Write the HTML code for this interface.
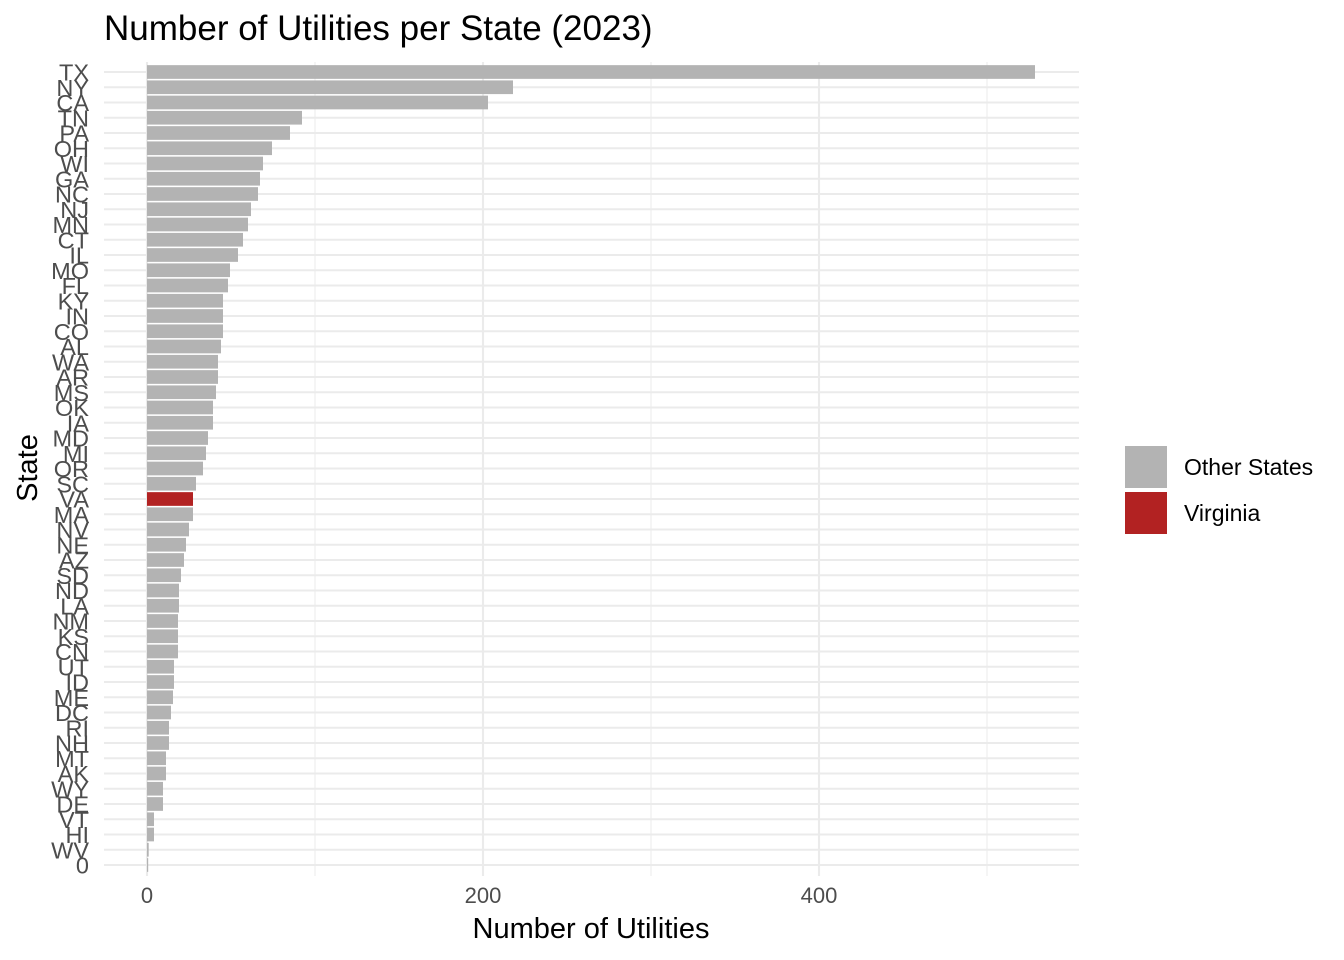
<!DOCTYPE html>
<html><head><meta charset="utf-8"><style>
html,body{margin:0;padding:0;background:#fff;}
svg{display:block;font-family:"Liberation Sans",Arial,sans-serif;}
.r line{stroke:#ebebeb;stroke-width:2.1}
.r rect{fill:#b3b3b3}
.r text{font-size:23.5px;fill:#4d4d4d;text-anchor:end}
</style></head><body>
<svg width="1344" height="960" viewBox="0 0 1344 960" xmlns="http://www.w3.org/2000/svg">
<rect width="1344" height="960" fill="#fff"/>
<g stroke="#ebebeb">
<line x1="315" x2="315" y1="62" y2="876" stroke-width="1"/>
<line x1="651" x2="651" y1="62" y2="876" stroke-width="1"/>
<line x1="987" x2="987" y1="62" y2="876" stroke-width="1"/>
<line x1="147" x2="147" y1="62" y2="876" stroke-width="2.1"/>
<line x1="483" x2="483" y1="62" y2="876" stroke-width="2.1"/>
<line x1="819" x2="819" y1="62" y2="876" stroke-width="2.1"/>
</g>
<g class="r">
<g transform="translate(0,72)"><line x1="104" x2="1079"/><rect x="147" y="-6.85" width="888" height="13.7"/><text x="89" y="8.5">TX</text></g>
<g transform="translate(0,87.25)"><line x1="104" x2="1079"/><rect x="147" y="-6.85" width="366" height="13.7"/><text x="89" y="8.5">NY</text></g>
<g transform="translate(0,102.5)"><line x1="104" x2="1079"/><rect x="147" y="-6.85" width="341" height="13.7"/><text x="89" y="8.5">CA</text></g>
<g transform="translate(0,117.75)"><line x1="104" x2="1079"/><rect x="147" y="-6.85" width="155" height="13.7"/><text x="89" y="8.5">TN</text></g>
<g transform="translate(0,133)"><line x1="104" x2="1079"/><rect x="147" y="-6.85" width="143" height="13.7"/><text x="89" y="8.5">PA</text></g>
<g transform="translate(0,148.25)"><line x1="104" x2="1079"/><rect x="147" y="-6.85" width="125" height="13.7"/><text x="89" y="8.5">OH</text></g>
<g transform="translate(0,163.5)"><line x1="104" x2="1079"/><rect x="147" y="-6.85" width="116" height="13.7"/><text x="89" y="8.5">WI</text></g>
<g transform="translate(0,178.75)"><line x1="104" x2="1079"/><rect x="147" y="-6.85" width="113" height="13.7"/><text x="89" y="8.5">GA</text></g>
<g transform="translate(0,194)"><line x1="104" x2="1079"/><rect x="147" y="-6.85" width="111" height="13.7"/><text x="89" y="8.5">NC</text></g>
<g transform="translate(0,209.25)"><line x1="104" x2="1079"/><rect x="147" y="-6.85" width="104" height="13.7"/><text x="89" y="8.5">NJ</text></g>
<g transform="translate(0,224.5)"><line x1="104" x2="1079"/><rect x="147" y="-6.85" width="101" height="13.7"/><text x="89" y="8.5">MN</text></g>
<g transform="translate(0,239.75)"><line x1="104" x2="1079"/><rect x="147" y="-6.85" width="96" height="13.7"/><text x="89" y="8.5">CT</text></g>
<g transform="translate(0,255)"><line x1="104" x2="1079"/><rect x="147" y="-6.85" width="91" height="13.7"/><text x="89" y="8.5">IL</text></g>
<g transform="translate(0,270.25)"><line x1="104" x2="1079"/><rect x="147" y="-6.85" width="83" height="13.7"/><text x="89" y="8.5">MO</text></g>
<g transform="translate(0,285.5)"><line x1="104" x2="1079"/><rect x="147" y="-6.85" width="81" height="13.7"/><text x="89" y="8.5">FL</text></g>
<g transform="translate(0,300.75)"><line x1="104" x2="1079"/><rect x="147" y="-6.85" width="76" height="13.7"/><text x="89" y="8.5">KY</text></g>
<g transform="translate(0,316)"><line x1="104" x2="1079"/><rect x="147" y="-6.85" width="76" height="13.7"/><text x="89" y="8.5">IN</text></g>
<g transform="translate(0,331.25)"><line x1="104" x2="1079"/><rect x="147" y="-6.85" width="76" height="13.7"/><text x="89" y="8.5">CO</text></g>
<g transform="translate(0,346.5)"><line x1="104" x2="1079"/><rect x="147" y="-6.85" width="74" height="13.7"/><text x="89" y="8.5">AL</text></g>
<g transform="translate(0,361.75)"><line x1="104" x2="1079"/><rect x="147" y="-6.85" width="71" height="13.7"/><text x="89" y="8.5">WA</text></g>
<g transform="translate(0,377)"><line x1="104" x2="1079"/><rect x="147" y="-6.85" width="71" height="13.7"/><text x="89" y="8.5">AR</text></g>
<g transform="translate(0,392.25)"><line x1="104" x2="1079"/><rect x="147" y="-6.85" width="69" height="13.7"/><text x="89" y="8.5">MS</text></g>
<g transform="translate(0,407.5)"><line x1="104" x2="1079"/><rect x="147" y="-6.85" width="66" height="13.7"/><text x="89" y="8.5">OK</text></g>
<g transform="translate(0,422.75)"><line x1="104" x2="1079"/><rect x="147" y="-6.85" width="66" height="13.7"/><text x="89" y="8.5">IA</text></g>
<g transform="translate(0,438)"><line x1="104" x2="1079"/><rect x="147" y="-6.85" width="61" height="13.7"/><text x="89" y="8.5">MD</text></g>
<g transform="translate(0,453.25)"><line x1="104" x2="1079"/><rect x="147" y="-6.85" width="59" height="13.7"/><text x="89" y="8.5">MI</text></g>
<g transform="translate(0,468.5)"><line x1="104" x2="1079"/><rect x="147" y="-6.85" width="56" height="13.7"/><text x="89" y="8.5">OR</text></g>
<g transform="translate(0,483.75)"><line x1="104" x2="1079"/><rect x="147" y="-6.85" width="49" height="13.7"/><text x="89" y="8.5">SC</text></g>
<g transform="translate(0,499)"><line x1="104" x2="1079"/><rect x="147" y="-6.85" width="46" height="13.7" style="fill:#b22222"/><text x="89" y="8.5">VA</text></g>
<g transform="translate(0,514.25)"><line x1="104" x2="1079"/><rect x="147" y="-6.85" width="46" height="13.7"/><text x="89" y="8.5">MA</text></g>
<g transform="translate(0,529.5)"><line x1="104" x2="1079"/><rect x="147" y="-6.85" width="42" height="13.7"/><text x="89" y="8.5">NV</text></g>
<g transform="translate(0,544.75)"><line x1="104" x2="1079"/><rect x="147" y="-6.85" width="39" height="13.7"/><text x="89" y="8.5">NE</text></g>
<g transform="translate(0,560)"><line x1="104" x2="1079"/><rect x="147" y="-6.85" width="37" height="13.7"/><text x="89" y="8.5">AZ</text></g>
<g transform="translate(0,575.25)"><line x1="104" x2="1079"/><rect x="147" y="-6.85" width="34" height="13.7"/><text x="89" y="8.5">SD</text></g>
<g transform="translate(0,590.5)"><line x1="104" x2="1079"/><rect x="147" y="-6.85" width="32" height="13.7"/><text x="89" y="8.5">ND</text></g>
<g transform="translate(0,605.75)"><line x1="104" x2="1079"/><rect x="147" y="-6.85" width="32" height="13.7"/><text x="89" y="8.5">LA</text></g>
<g transform="translate(0,621)"><line x1="104" x2="1079"/><rect x="147" y="-6.85" width="31" height="13.7"/><text x="89" y="8.5">NM</text></g>
<g transform="translate(0,636.25)"><line x1="104" x2="1079"/><rect x="147" y="-6.85" width="31" height="13.7"/><text x="89" y="8.5">KS</text></g>
<g transform="translate(0,651.5)"><line x1="104" x2="1079"/><rect x="147" y="-6.85" width="31" height="13.7"/><text x="89" y="8.5">CN</text></g>
<g transform="translate(0,666.75)"><line x1="104" x2="1079"/><rect x="147" y="-6.85" width="27" height="13.7"/><text x="89" y="8.5">UT</text></g>
<g transform="translate(0,682)"><line x1="104" x2="1079"/><rect x="147" y="-6.85" width="27" height="13.7"/><text x="89" y="8.5">ID</text></g>
<g transform="translate(0,697.25)"><line x1="104" x2="1079"/><rect x="147" y="-6.85" width="26" height="13.7"/><text x="89" y="8.5">ME</text></g>
<g transform="translate(0,712.5)"><line x1="104" x2="1079"/><rect x="147" y="-6.85" width="24" height="13.7"/><text x="89" y="8.5">DC</text></g>
<g transform="translate(0,727.75)"><line x1="104" x2="1079"/><rect x="147" y="-6.85" width="22" height="13.7"/><text x="89" y="8.5">RI</text></g>
<g transform="translate(0,743)"><line x1="104" x2="1079"/><rect x="147" y="-6.85" width="22" height="13.7"/><text x="89" y="8.5">NH</text></g>
<g transform="translate(0,758.25)"><line x1="104" x2="1079"/><rect x="147" y="-6.85" width="19" height="13.7"/><text x="89" y="8.5">MT</text></g>
<g transform="translate(0,773.5)"><line x1="104" x2="1079"/><rect x="147" y="-6.85" width="19" height="13.7"/><text x="89" y="8.5">AK</text></g>
<g transform="translate(0,788.75)"><line x1="104" x2="1079"/><rect x="147" y="-6.85" width="16" height="13.7"/><text x="89" y="8.5">WY</text></g>
<g transform="translate(0,804)"><line x1="104" x2="1079"/><rect x="147" y="-6.85" width="16" height="13.7"/><text x="89" y="8.5">DE</text></g>
<g transform="translate(0,819.25)"><line x1="104" x2="1079"/><rect x="147" y="-6.85" width="7" height="13.7"/><text x="89" y="8.5">VT</text></g>
<g transform="translate(0,834.5)"><line x1="104" x2="1079"/><rect x="147" y="-6.85" width="7" height="13.7"/><text x="89" y="8.5">HI</text></g>
<g transform="translate(0,849.75)"><line x1="104" x2="1079"/><rect x="147" y="-6.85" width="1.7" height="13.7"/><text x="89" y="8.5">WV</text></g>
<g transform="translate(0,865)"><line x1="104" x2="1079"/><rect x="147" y="-6.85" width="1.2" height="13.7"/><text x="89" y="8.5">0</text></g>
</g>
<g font-size="22" fill="#4d4d4d" text-anchor="middle">
<text x="147" y="903">0</text>
<text x="483" y="903">200</text>
<text x="819" y="903">400</text>
</g>
<text x="591" y="938" font-size="29" text-anchor="middle" fill="#000">Number of Utilities</text>
<text transform="translate(37,468) rotate(-90)" font-size="29" text-anchor="middle" fill="#000">State</text>
<text x="104" y="40" font-size="35" fill="#000">Number of Utilities per State (2023)</text>
<rect x="1125" y="446" width="42" height="42" fill="#b3b3b3"/>
<rect x="1125" y="492" width="42" height="42" fill="#b22222"/>
<text x="1184" y="475" font-size="23" fill="#000">Other States</text>
<text x="1184" y="521" font-size="23" fill="#000">Virginia</text>
</svg>
</body></html>
